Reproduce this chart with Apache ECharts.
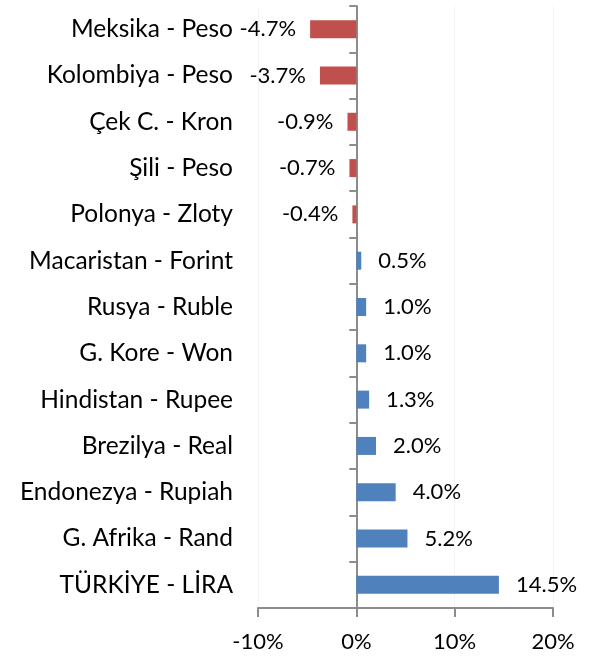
<!DOCTYPE html>
<html><head><meta charset="utf-8">
<script src="https://cdn.jsdelivr.net/npm/echarts@6/dist/echarts.min.js"></script>
<style>html,body{margin:0;padding:0;background:#fff}#c{width:596px;height:658px}</style>
</head><body><div id="c"></div>
<script>
const categories = ["Meksika - Peso","Kolombiya - Peso","Çek C. - Kron","Şili - Peso","Polonya - Zloty","Macaristan - Forint","Rusya - Ruble","G. Kore - Won","Hindistan - Rupee","Brezilya - Real","Endonezya - Rupiah","G. Afrika - Rand","TÜRKİYE - LİRA"];
const values = [-4.7,-3.7,-0.9,-0.7,-0.4,0.5,1.0,1.0,1.3,2.0,4.0,5.2,14.5];
const xTicks = [-10,0,10,20];
const NEG = '#C0504D', POS = '#4F81BD';
const FONT = 'Lato';
const AX = '#8c8c8c';
const chart = echarts.init(document.getElementById('c'));
chart.setOption({
  animation:false,
  grid:{left:258,right:43,top:6,bottom:50,containLabel:false},
  xAxis:{type:'value',min:xTicks[0],max:xTicks[xTicks.length-1],interval:10,
    axisLine:{show:true,onZero:false,lineStyle:{color:AX,width:2}},
    axisTick:{show:true,length:9,lineStyle:{color:AX,width:2}},
    splitLine:{show:true,lineStyle:{color:'#ececec',type:'dotted',width:1}},
    axisLabel:{formatter:v=>v+'%',color:'#000',fontFamily:FONT,fontSize:22,margin:23}
  },
  yAxis:[
    {type:'category',data:categories,inverse:true,position:'left',
      axisLine:{show:false,onZero:false},axisTick:{show:false},
      axisLabel:{color:'#000',fontFamily:FONT,fontSize:24.5,margin:25,padding:[4,0,0,0]}},
    {type:'category',data:categories,inverse:true,position:'left',
      axisLine:{show:true,onZero:true,lineStyle:{color:AX,width:2}},
      axisTick:{show:true,length:7,lineStyle:{color:AX,width:2}},
      axisLabel:{show:false}}
  ],
  series:[{type:'bar',yAxisIndex:0,barWidth:18,
    data:values.map(v=>({value:v,itemStyle:{color:v<0?NEG:POS},
      label:{show:true,position:v<0?'left':'right',distance:v<0?14:17,
        formatter:p=>p.value.toFixed(1)+'%',color:'#000',fontFamily:FONT,fontSize:22}}))
  }]
});
</script></body></html>
